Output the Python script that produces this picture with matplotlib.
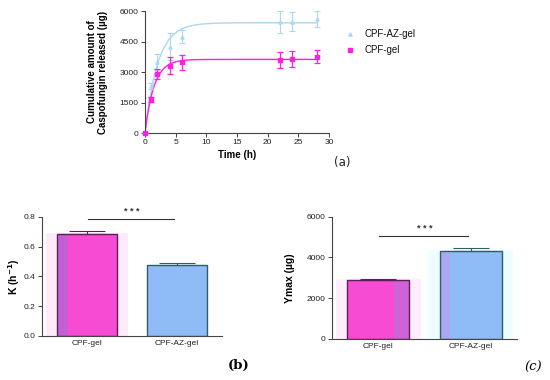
import numpy as np
import matplotlib
matplotlib.use('Agg')
import matplotlib.pyplot as plt

plt.rcParams['font.family'] = ['Liberation Sans', 'DejaVu Sans']

# Panel (a): release profile
time_h = [0, 1, 2, 4, 6, 22, 24, 28]
cpf_gel = [0, 1650, 2900, 3310, 3480, 3580, 3630, 3760]
cpf_gel_err = [0, 120, 250, 430, 370, 400, 380, 300]
cpf_az_gel = [0, 2290, 3480, 4250, 4740, 5450, 5480, 5600]
cpf_az_gel_err = [0, 150, 400, 650, 330, 550, 450, 400]

# one-phase association fit parameters (Ymax, K)
fit_gel = (3620, 0.68)
fit_az_gel = (5420, 0.48)

# Panels (b) and (c): fitted parameters
groups = ['CPF-gel', 'CPF-AZ-gel']
k_vals = [0.685, 0.48]
k_err = [0.02, 0.012]
ymax_vals = [2900, 4330]
ymax_err = [40, 110]

pink = '#ff1fe0'
light_blue = '#a9d9f2'
bar_pink = '#f74bd3'
bar_blue = '#8fbcf7'
edge_pink = '#5c1f56'
edge_blue = '#2f5e6a'

fig = plt.figure(figsize=(5.5, 3.8), dpi=100)


def style(a):
    for s in ['top', 'right']:
        a.spines[s].set_visible(False)
    for s in ['left', 'bottom']:
        a.spines[s].set_color('#444')
        a.spines[s].set_linewidth(0.8)
    a.tick_params(labelsize=6, length=3, width=0.7, color='#444', pad=1.5, labelcolor='#222')


# ---- (a)
ax = fig.add_axes([0.2636, 0.65, 0.3345, 0.321])
t_fit = np.linspace(0, 28, 300)
for (ym, k), c in [(fit_az_gel, light_blue), (fit_gel, pink)]:
    ax.plot(t_fit, ym * (1 - np.exp(-k * t_fit)), color=c, lw=1.0, zorder=2)
ax.errorbar(time_h, cpf_az_gel, yerr=cpf_az_gel_err, fmt='^', ms=2.3, color=light_blue,
            ecolor=light_blue, elinewidth=0.8, capsize=2.5, capthick=0.8, clip_on=False, zorder=3)
ax.errorbar(time_h, cpf_gel, yerr=cpf_gel_err, fmt='s', ms=3, color=pink,
            ecolor=pink, elinewidth=0.9, capsize=2.5, capthick=0.9, clip_on=False, zorder=4)
ax.set_xlim(0, 30)
ax.set_ylim(0, 6000)
ax.set_xticks([0, 5, 10, 15, 20, 25, 30])
ax.set_yticks([0, 1500, 3000, 4500, 6000])
ax.set_xlabel('Time (h)', fontsize=7, fontweight='bold', labelpad=3)
ax.set_ylabel('Cumulative amount of\nCaspofungin released (\u00b5g)', fontsize=7,
              fontweight='bold', linespacing=1.15)
ax.yaxis.set_label_coords(-0.2, 0.5)
ax.text(1.03, -0.27, '(a)', transform=ax.transAxes, fontsize=8.5, family='DejaVu Sans', color='#222')
style(ax)

# legend drawn by hand to the right
ax.plot([1.114], [0.81], '^', ms=2.3, color=light_blue, transform=ax.transAxes, clip_on=False)
ax.text(1.195, 0.81, 'CPF-AZ-gel', transform=ax.transAxes, fontsize=7, va='center', color='#111')
ax.plot([1.114], [0.68], 's', ms=3, color=pink, transform=ax.transAxes, clip_on=False)
ax.text(1.195, 0.68, 'CPF-gel', transform=ax.transAxes, fontsize=7, va='center', color='#111')


def bar_panel(rect, vals, errs, ylim, yticks, ylabel, sig_y, glow, bands):
    a = fig.add_axes(rect)
    x = np.arange(len(vals))
    # faint glow behind bars
    for xi, v, g in zip(x, vals, glow):
        if g:
            a.bar(xi, v * 1.01, width=0.92, color=g, zorder=0)
    a.bar(x, vals, width=0.67, color=[bar_pink, bar_blue], zorder=1)
    # darker side bands inside the bars
    for xi, v, (off, w, c) in zip(x, vals, bands):
        if c:
            a.bar(xi + off, v, width=w, color=c, zorder=1.5)
    a.bar(x, vals, width=0.67, color='none', edgecolor=[edge_pink, edge_blue],
          linewidth=1.0, zorder=2)
    for xi, v, e, c in zip(x, vals, errs, [edge_pink, edge_blue]):
        a.errorbar(xi, v, yerr=[[0], [e]], fmt='none', ecolor=c, elinewidth=0.8,
                   capsize=13, capthick=0.8, zorder=3)
    a.set_xlim(-0.5, 1.5)
    a.set_ylim(*ylim)
    a.set_yticks(yticks)
    a.set_xticks(x)
    a.set_xticklabels(groups)
    a.set_ylabel(ylabel, fontsize=7.5, fontweight='bold')
    a.plot([0.01, 0.97], [sig_y, sig_y], color='#333', lw=0.8, clip_on=False)
    a.text(0.5, sig_y + (ylim[1] - ylim[0]) * 0.025, '* * *', ha='center', va='bottom',
           fontsize=6.5, fontweight='bold', color='#333')
    style(a)
    a.tick_params(axis='x', length=0, pad=3)
    return a


axb = bar_panel([0.0764, 0.116, 0.327, 0.313], k_vals, k_err, (0, 0.8),
                [0.0, 0.2, 0.4, 0.6, 0.8], 'K (h$^{\\mathbf{-1}}$)', 0.785,
                ['#fdeafb', None], [(-0.27, 0.12, '#c25fd2'), (0, 0, None)])
axb.yaxis.set_label_coords(-0.11, 0.5)
axb.yaxis.set_major_formatter(matplotlib.ticker.FormatStrFormatter('%.1f'))
axb.text(1.03, -0.25, '(b)', transform=axb.transAxes, fontsize=9.5, family='DejaVu Serif',
         fontweight='bold', va='center')

axc = bar_panel([0.6036, 0.108, 0.336, 0.322], ymax_vals, ymax_err, (0, 6000),
                [0, 2000, 4000, 6000], 'Ymax (\u00b5g)', 5050,
                ['#fdeefc', '#eefdfd'], [(0.25, 0.16, '#cf62d6'), (-0.28, 0.11, '#aaa8f2')])
axc.yaxis.set_label_coords(-0.2, 0.5)
axc.text(1.04, -0.23, '(c)', transform=axc.transAxes, fontsize=9.5, family='DejaVu Serif',
         style='italic', va='center')

fig.savefig('out.png', dpi=100)
